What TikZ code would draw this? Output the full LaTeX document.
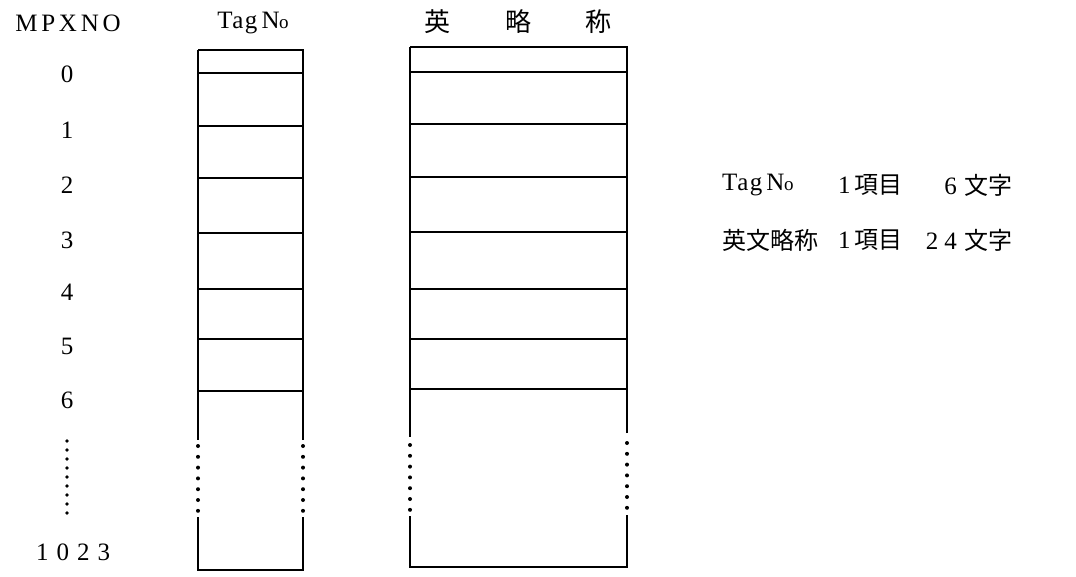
\documentclass[tikz,border=0pt]{standalone}
\usepackage{fontspec}
\setmainfont{Liberation Serif}
\newfontfamily\latsp[LetterSpace=15]{Liberation Serif}
\newfontfamily\latdg[LetterSpace=32]{Liberation Serif}
\newfontfamily\latsm[LetterSpace=6]{Liberation Serif}
\newfontfamily\cjk{Noto Sans CJK JP}
\newcommand{\nosign}{N\kern-0.5pt{\fontsize{19}{20}\selectfont o}}
\begin{document}
\begin{tikzpicture}[x=1pt,y=-1pt,
  boxline/.style={line width=1.4pt,black},
  rowline/.style={line width=1.2pt,black},
  lbl/.style={inner sep=0pt,font=\fontsize{25}{28}\selectfont\latsp},
  dg/.style={inner sep=0pt,font=\fontsize{25}{28}\selectfont\latdg},
  tg/.style={inner sep=0pt,font=\fontsize{25}{28}\selectfont\latsm},
  cj/.style={inner sep=0pt,font=\fontsize{24}{28}\selectfont\cjk},
  dotc/.style={fill=black}]
\useasboundingbox (0,0) rectangle (1076,576);
% headers
\node[lbl] (hmpx) at (68,23) {MPXNO};
\node[tg] (htag) at (253,23) {Tag\,\nosign};
\node[cj,font=\fontsize{26}{30}\selectfont\cjk] (he1) at (437,22) {英};
\node[cj,font=\fontsize{26}{30}\selectfont\cjk] (he2) at (518,22) {略};
\node[cj,font=\fontsize{26}{30}\selectfont\cjk] (he3) at (598,22) {称};
% row numbers
\foreach \n/\y in {0/74,1/130,2/185,3/240,4/292,5/346,6/400}{
  \node[lbl] (r\n) at (67,\y) {\n};
}
\node[dg] (rlast) at (73,552) {1023};
\foreach \i in {0,...,8}{
  \fill[dotc] (67,{441+\i*9}) circle (1.8);
}
% Tag box
\draw[boxline] (198,50) -- (198,440);
\draw[boxline] (198,517) -- (198,570) -- (303,570) -- (303,517);
\draw[boxline] (303,440) -- (303,50) -- (198,50);
\foreach \y in {73,126,178,233,289,339,391}{
  \draw[rowline] (198,\y) -- (303,\y);
}
\foreach \i in {0,...,6}{
  \fill[dotc] (198,{446+\i*10.8}) circle (2);
  \fill[dotc] (303,{446+\i*10.8}) circle (2);
}
% English box
\draw[boxline] (410,47) -- (410,437);
\draw[boxline] (410,516) -- (410,567) -- (627,567) -- (627,515);
\draw[boxline] (627,433) -- (627,47) -- (410,47);
\foreach \y in {72,124,177,232,289,339,389}{
  \draw[rowline] (410,\y) -- (627,\y);
}
\foreach \i in {0,...,6}{
  \fill[dotc] (410,{445+\i*10.8}) circle (2);
  \fill[dotc] (627,{443+\i*10.8}) circle (2);
}
% legend
\node[tg,anchor=west] (ltag) at (722,185) {Tag\,\nosign};
\node[anchor=west,inner sep=0pt] (ltag1) at (838,185) {\fontsize{25}{28}\selectfont 1\hspace{4pt}\fontsize{24}{28}\cjk 項目};
\node[anchor=east,inner sep=0pt] (ltag2) at (1013,185) {\fontsize{25}{28}\selectfont 6\hspace{8pt}\fontsize{24}{28}\cjk 文字};
\node[cj,anchor=west] (leng) at (722,240) {英文略称};
\node[anchor=west,inner sep=0pt] (leng1) at (838,240) {\fontsize{25}{28}\selectfont 1\hspace{4pt}\fontsize{24}{28}\cjk 項目};
\node[anchor=east,inner sep=0pt] (leng2) at (1013,240) {\fontsize{25}{28}\selectfont 2\hspace{6pt}4\hspace{8pt}\fontsize{24}{28}\cjk 文字};
\end{tikzpicture}
\end{document}
